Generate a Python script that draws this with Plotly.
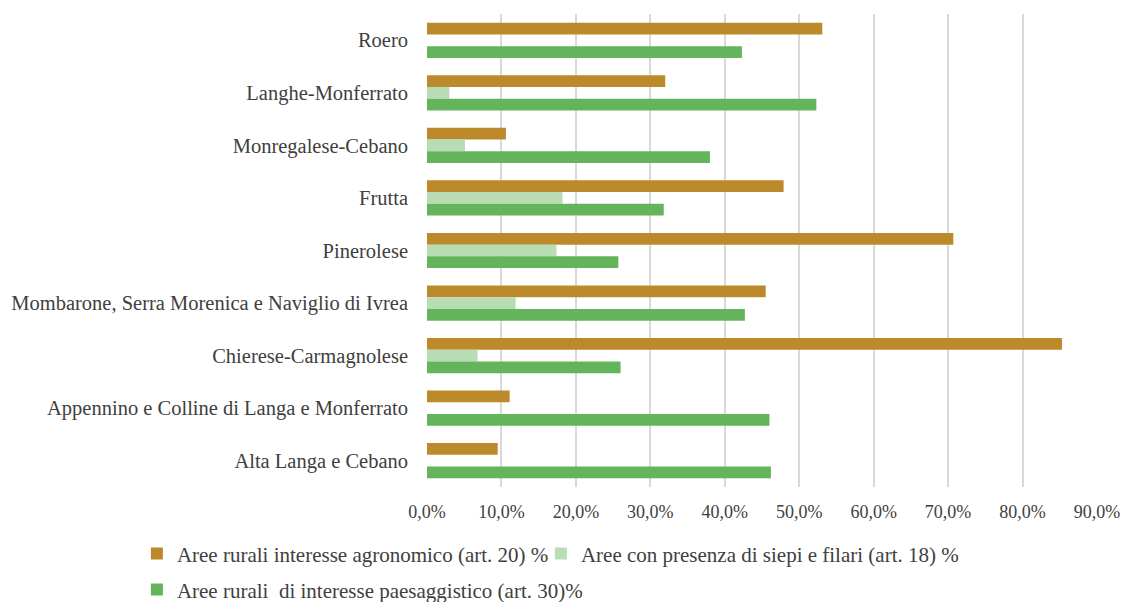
import plotly.graph_objects as go

categories = [
    "Roero",
    "Langhe-Monferrato",
    "Monregalese-Cebano",
    "Frutta",
    "Pinerolese",
    "Mombarone, Serra Morenica e Naviglio di Ivrea",
    "Chierese-Carmagnolese",
    "Appennino e Colline di Langa e Monferrato",
    "Alta Langa e Cebano",
]
agronomico = [0.531, 0.320, 0.106, 0.479, 0.707, 0.455, 0.853, 0.111, 0.095]
siepi = [None, 0.030, 0.051, 0.182, 0.174, 0.119, 0.068, None, None]
paesaggistico = [0.423, 0.523, 0.380, 0.318, 0.257, 0.427, 0.260, 0.460, 0.462]

series_names = [
    "Aree rurali interesse agronomico (art. 20) %",
    "Aree con presenza di siepi e filari (art. 18) %",
    "Aree rurali  di interesse paesaggistico (art. 30)%",
]
colors = ["#BC8A2B", "#B8DDB4", "#63B45A"]
tick_vals = [0, 0.1, 0.2, 0.3, 0.4, 0.5, 0.6, 0.7, 0.8, 0.9]

FONT = "Liberation Serif, Times New Roman, DejaVu Serif, serif"
TXT = "#404040"

fig = go.Figure()
for vals, name, col, lg in zip([agronomico, siepi, paesaggistico], series_names, colors,
                               ["legend", "legend2", "legend3"]):
    fig.add_trace(go.Bar(
        y=categories, x=vals, name=name, orientation="h",
        marker=dict(color=col, line=dict(width=0)),
        legend=lg,
    ))

leg_common = dict(
    orientation="h", xanchor="left", yanchor="top",
    font=dict(family=FONT, size=21, color=TXT),
    itemwidth=30, bgcolor="rgba(0,0,0,0)",
)

fig.update_layout(
    width=1121, height=602,
    margin=dict(l=427, r=24, t=14, b=115, autoexpand=False),
    paper_bgcolor="white", plot_bgcolor="white",
    barmode="group", bargap=0.33, bargroupgap=0,
    separators=",.",
    font=dict(family=FONT, color=TXT, size=17),
    xaxis=dict(
        range=[0, 0.9], tickvals=tick_vals, tickformat=".1%",
        showgrid=True, gridcolor="#D9D9D9", gridwidth=1.5,
        zeroline=False, showline=False, ticks="", ticklabelstandoff=12,
        tickfont=dict(family=FONT, size=18, color=TXT),
        fixedrange=True,
    ),
    yaxis=dict(
        autorange="reversed", showgrid=False, zeroline=False, showline=False,
        ticks="", ticklabelstandoff=18,
        tickfont=dict(family=FONT, size=20.5, color=TXT),
    ),
    legend=dict(x=-0.433, y=-0.098, **leg_common),
    legend2=dict(x=0.170, y=-0.098, **leg_common),
    legend3=dict(x=-0.433, y=-0.174, **leg_common),
    showlegend=True,
)

fig.write_html("out.html", post_script="document.body.style.margin='0px';",
               config={"displayModeBar": False})
